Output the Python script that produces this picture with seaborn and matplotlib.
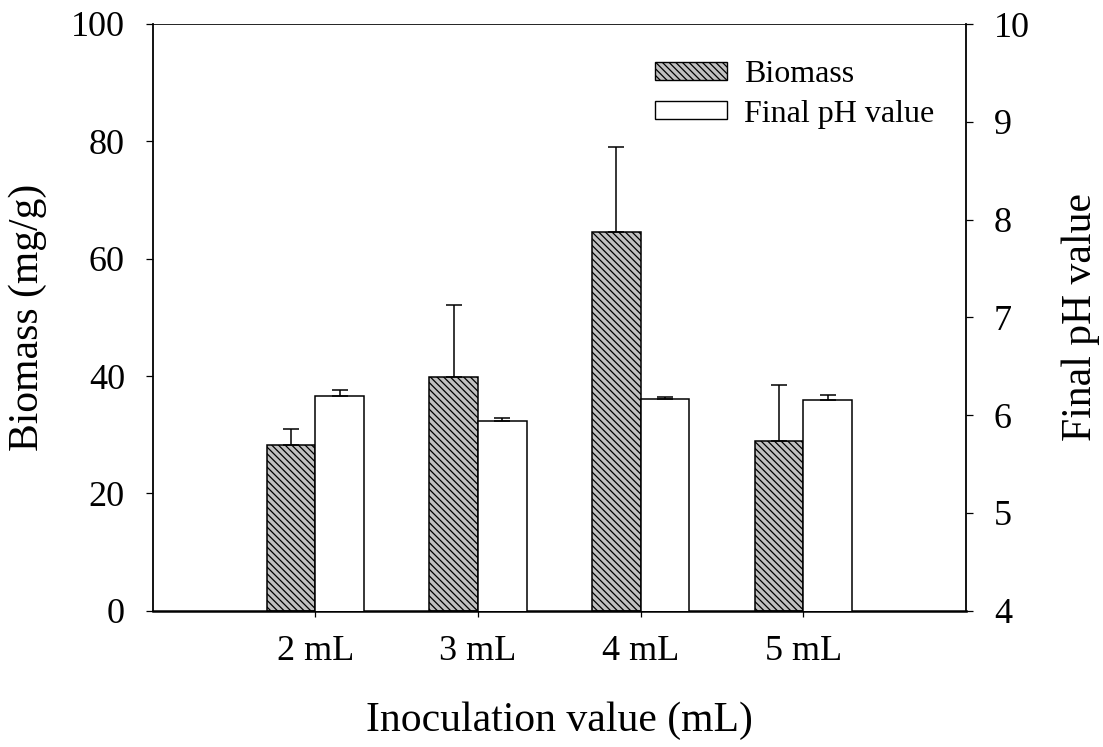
import numpy as np
import pandas as pd
import matplotlib
matplotlib.use("Agg")
import matplotlib.pyplot as plt
from matplotlib.patches import Patch
import seaborn as sns

# Data
inoculation = ["2 mL", "3 mL", "4 mL", "5 mL"]
biomass = [28.2, 39.8, 64.5, 29.0]
biomass_err = [2.8, 12.3, 14.5, 9.4]
final_ph = [6.20, 5.94, 6.17, 6.155]
final_ph_err = [0.06, 0.03, 0.02, 0.05]
series = ["Biomass", "Final pH value"]

sns.set_style("ticks")
plt.rcParams["font.family"] = ["Liberation Serif", "DejaVu Serif"]
plt.rcParams["text.color"] = "black"
plt.rcParams["axes.labelcolor"] = "black"
plt.rcParams["hatch.linewidth"] = 0.9
plt.rcParams["hatch.color"] = "black"

bio_df = pd.DataFrame({"Inoculation": inoculation, "Value": biomass, "Series": series[0]})
ph_df = pd.DataFrame({"Inoculation": inoculation, "Value": final_ph, "Series": series[1]})
palette = {series[0]: "#c0c0c0", series[1]: "white"}

fig = plt.figure(figsize=(11.03, 7.47), dpi=100)
W, H = 1103, 747
left, right, top, bottom = 152.7, 966, 24, 610.7
ax = fig.add_axes([left / W, 1 - bottom / H, (right - left) / W, (bottom - top) / H])
ax2 = ax.twinx()

bar_kw = dict(x="Inoculation", y="Value", hue="Series", hue_order=series,
              order=inoculation, palette=palette, width=0.6, dodge=True, saturation=1,
              edgecolor="black", linewidth=1.1, errorbar=None, legend=False)

sns.barplot(data=bio_df, ax=ax, **bar_kw)
sns.barplot(data=ph_df, ax=ax2, **bar_kw)

for cont in ax.containers:
    for p in cont.patches:
        p.set_hatch("\\" * 5)

# upward-only error bars, centred on each bar
xpos = np.arange(len(inoculation))
half = 0.15
err_kw = dict(fmt="none", ecolor="black", elinewidth=1.1, capsize=6, capthick=1.1)
ax.errorbar(xpos - half, biomass, yerr=[np.zeros(len(biomass)), biomass_err], **err_kw)
ax2.errorbar(xpos + half, final_ph, yerr=[np.zeros(len(final_ph)), final_ph_err], **err_kw)

ax.set_xlim(-1, 4)
ax2.set_xlim(-1, 4)
ax.set_ylim(0, 100)
ax2.set_ylim(4, 10)
ax.set_yticks(np.arange(0, 101, 20))
ax2.set_yticks(np.arange(4, 11, 1))

tick_fs = 26
ax.tick_params(axis="y", direction="out", length=5, width=0.9, labelsize=tick_fs, pad=15,
               color="black", labelcolor="black")
ax.tick_params(axis="x", direction="out", length=4.5, width=0.9, labelsize=tick_fs, pad=13,
               color="black", labelcolor="black")
ax2.tick_params(axis="y", direction="out", length=5, width=0.9, labelsize=tick_fs, pad=15,
                color="black", labelcolor="black")

ax.set_xlabel("Inoculation value (mL)", fontsize=30, labelpad=24, color="black")
ax.set_ylabel("Biomass (mg/g)", fontsize=30, labelpad=17, color="black")
ax2.set_ylabel("Final pH value", fontsize=30, labelpad=23, color="black")

for name, sp in ax.spines.items():
    sp.set_color("black")
ax.spines["right"].set_visible(False)
ax.spines["left"].set_linewidth(1.3)
ax.spines["bottom"].set_linewidth(1.8)
ax.spines["top"].set_linewidth(0.6)
for name in ["left", "top", "bottom"]:
    ax2.spines[name].set_visible(False)
ax2.spines["right"].set_visible(True)
ax2.spines["right"].set_linewidth(1.3)
ax2.spines["right"].set_color("black")

handles = [
    Patch(facecolor="#c0c0c0", edgecolor="black", hatch="\\" * 5, linewidth=1.0, label=series[0]),
    Patch(facecolor="white", edgecolor="black", linewidth=1.0, label=series[1]),
]
leg = ax2.legend(handles=handles, loc="upper left",
                 bbox_to_anchor=((655 - left) / (right - left), 1 - (60 - top) / (bottom - top)),
                 frameon=False, fontsize=23, handlelength=2.25, handleheight=0.5,
                 handletextpad=0.55, labelspacing=0.33, borderaxespad=0, borderpad=0)
for t in leg.get_texts():
    t.set_color("black")

fig.savefig("out.png", dpi=100)
